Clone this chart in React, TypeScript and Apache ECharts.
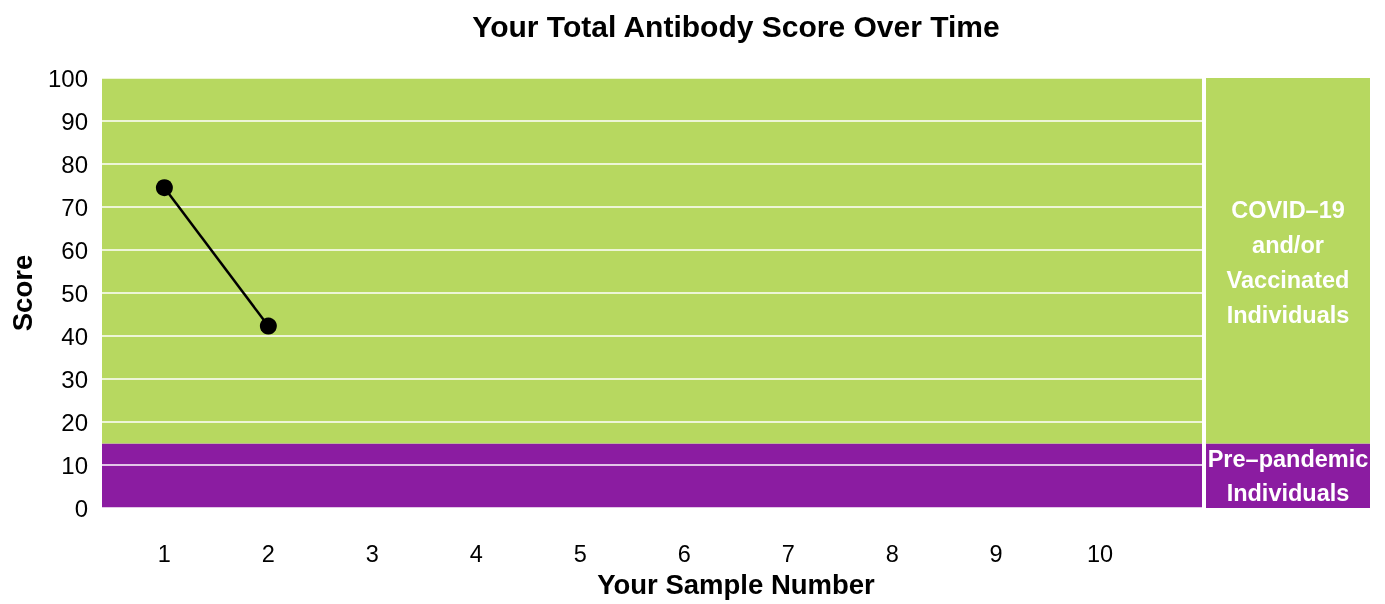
import React, { useEffect, useRef } from "react";
import * as echarts from "echarts";

const sampleNumbers = [1, 2];
const scores = [74.5, 42.3];
const xTickValues = [1, 2, 3, 4, 5, 6, 7, 8, 9, 10];
const yTickInterval = 10;
const prePandemicTop = 15;
const covidBandHeight = 85;
const panelLabels = ["Pre\u2013pandemic\nIndividuals", "COVID\u201319\nand/or\nVaccinated\nIndividuals"];
const titleText = "Your Total Antibody Score Over Time";
const xName = "Your Sample Number";
const yName = "Score";

const FONT = "Liberation Sans, Arial, sans-serif";
const GREEN = "#B7D860";
const PURPLE = "#8B1CA1";

export default function App() {
  const ref = useRef<HTMLDivElement>(null);
  useEffect(() => {
    if (!ref.current) return;
    const chart = echarts.init(ref.current, undefined, { renderer: "svg" });
    const option: any = {
      animation: false,
      textStyle: { fontFamily: FONT },
      graphic: [
        {
          type: "text",
          x: 736,
          y: 26,
          style: {
            text: titleText,
            fontFamily: FONT,
            fontSize: 30,
            fontWeight: "bold",
            fill: "#000",
            textAlign: "center",
            textVerticalAlign: "middle",
          },
        },
      ],
      grid: [
        { left: 102, right: 183, top: 78, bottom: 96 },
        { left: 1206, right: 15, top: 78, bottom: 96 },
      ],
      xAxis: [
        {
          type: "value",
          gridIndex: 0,
          min: 0.4,
          max: 10.98,
          axisLine: { show: false },
          axisTick: { show: false },
          splitLine: { show: false },
          axisLabel: {
            customValues: xTickValues,
            fontSize: 23.5,
            color: "#000",
            margin: 34,
            fontFamily: FONT,
          },
          name: xName,
          nameLocation: "middle",
          nameGap: 62,
          nameTextStyle: {
            fontSize: 27.5,
            fontWeight: "bold",
            color: "#000",
            fontFamily: FONT,
            padding: [0, 0, 0, 168],
          },
        },
        { type: "category", gridIndex: 0, data: ["band"], show: false },
        { type: "category", gridIndex: 1, data: ["panel"], show: false },
      ],
      yAxis: [
        {
          type: "value",
          gridIndex: 0,
          min: 0,
          max: 100,
          interval: yTickInterval,
          z: 3,
          axisLine: { show: false },
          axisTick: { show: false },
          splitLine: { show: true, lineStyle: { color: "#ffffff", width: 1.5 } },
          axisLabel: { fontSize: 24, color: "#000", margin: 14, fontFamily: FONT },
          name: yName,
          nameLocation: "middle",
          nameGap: 66,
          nameTextStyle: { fontSize: 27.5, fontWeight: "bold", color: "#000", fontFamily: FONT },
        },
        { type: "value", gridIndex: 1, min: 0, max: 100, show: false },
      ],
      series: [
        {
          type: "bar",
          xAxisIndex: 1,
          yAxisIndex: 0,
          stack: "bands",
          barWidth: "100%",
          z: 1,
          silent: true,
          itemStyle: { color: PURPLE },
          data: [prePandemicTop],
        },
        {
          type: "bar",
          xAxisIndex: 1,
          yAxisIndex: 0,
          stack: "bands",
          barWidth: "100%",
          z: 1,
          silent: true,
          itemStyle: { color: GREEN },
          data: [covidBandHeight],
        },
        {
          type: "bar",
          xAxisIndex: 2,
          yAxisIndex: 1,
          stack: "panel",
          barWidth: "100%",
          silent: true,
          itemStyle: { color: PURPLE },
          label: {
            show: true,
            position: "inside",
            formatter: panelLabels[0],
            color: "#fff",
            fontWeight: "bold",
            fontSize: 23.5,
            lineHeight: 34,
            fontFamily: FONT,
          },
          data: [prePandemicTop],
        },
        {
          type: "bar",
          xAxisIndex: 2,
          yAxisIndex: 1,
          stack: "panel",
          barWidth: "100%",
          silent: true,
          itemStyle: { color: GREEN },
          label: {
            show: true,
            position: "inside",
            formatter: panelLabels[1],
            color: "#fff",
            fontWeight: "bold",
            fontSize: 23.5,
            lineHeight: 35,
            fontFamily: FONT,
            offset: [0, 2],
          },
          data: [covidBandHeight],
        },
        {
          type: "line",
          xAxisIndex: 0,
          yAxisIndex: 0,
          z: 5,
          symbol: "circle",
          symbolSize: 17,
          lineStyle: { color: "#000", width: 2.5 },
          itemStyle: { color: "#000" },
          data: sampleNumbers.map((s, i) => [s, scores[i]]),
        },
      ],
    };
    chart.setOption(option);
    return () => chart.dispose();
  }, []);
  return (
    <div
      ref={ref}
      style={{ position: "fixed", left: 0, top: 0, width: 1385, height: 604 }}
    />
  );
}
